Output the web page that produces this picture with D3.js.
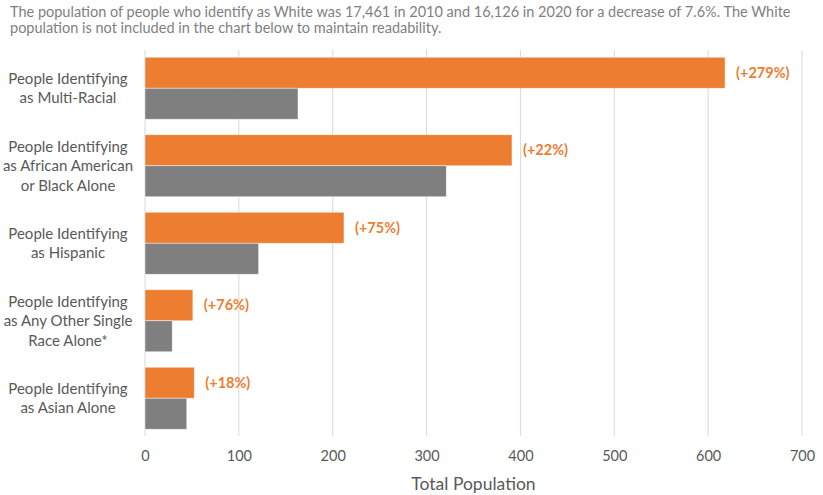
<!DOCTYPE html>
<html>
<head>
<meta charset="utf-8">
<script src="https://cdn.jsdelivr.net/npm/d3@7"></script>
<style>
  html, body { margin: 0; padding: 0; background: #ffffff; }
  svg { display: block; font-family: Lato, "Open Sans", sans-serif; }
</style>
</head>
<body>
<svg id="chart" width="823" height="495"></svg>
<script>
const categories = [
  ["People Identifying", "as Multi-Racial"],
  ["People Identifying", "as African American", "or Black Alone"],
  ["People Identifying", "as Hispanic"],
  ["People Identifying", "as Any Other Single", "Race Alone*"],
  ["People Identifying", "as Asian Alone"]
];
const values2020 = [618, 391, 212, 51, 52.5];
const values2010 = [163, 321, 121, 29, 44.5];
const changeLabels = ["(+279%)", "(+22%)", "(+75%)", "(+76%)", "(+18%)"];
const xTicks = [0, 100, 200, 300, 400, 500, 600, 700];
const titleLines = [
  "The population of people who identify as White was 17,461 in 2010 and 16,126 in 2020 for a decrease of 7.6%. The White",
  "population is not included in the chart below to maintain readability."
];
const axisTitle = "Total Population";

const svg = d3.select("#chart");
const ORANGE = "#ED7D31", GRAY = "#7F7F7F", TEXT = "#595959";

const x = d3.scaleLinear().domain([0, 700]).range([145, 802]);
const idx = d3.range(categories.length);
const y = d3.scaleBand().domain(idx).range([49.5, 437]).paddingInner(0.2).paddingOuter(0.1);
const sub = d3.scaleBand().domain(["2020", "2010"]).range([0, y.bandwidth()]);

// title
svg.append("g").selectAll("text").data(titleLines).join("text")
  .attr("x", 10).attr("y", (d, i) => 17 + i * 15.5)
  .attr("fill", "#7f7f7f").attr("font-size", 14.5)
  .text(d => d);

// gridlines
svg.append("g").selectAll("line").data(xTicks).join("line")
  .attr("x1", d => x(d)).attr("x2", d => x(d))
  .attr("y1", 50).attr("y2", 436)
  .attr("stroke", "#d9d9d9").attr("stroke-width", 1);

// axis labels
const xAxis = d3.axisBottom(x).tickValues(xTicks).tickSize(0).tickPadding(0);
const ax = svg.append("g").attr("transform", "translate(0,451)").call(xAxis);
ax.select(".domain").remove();
ax.selectAll("text").attr("fill", TEXT).attr("font-size", 14.5).attr("font-family", "Lato, sans-serif");

svg.append("text").attr("x", x(350)).attr("y", 490).attr("text-anchor", "middle")
  .attr("fill", TEXT).attr("font-size", 17.5).text(axisTitle);

// bars
const groups = svg.append("g").selectAll("g").data(idx).join("g")
  .attr("transform", d => `translate(0,${y(d)})`);

groups.append("rect")
  .attr("x", x(0)).attr("y", sub("2020"))
  .attr("width", d => x(values2020[d]) - x(0)).attr("height", sub.bandwidth())
  .attr("fill", ORANGE).attr("stroke", "#ffffff").attr("stroke-opacity", 0.6).attr("stroke-width", 0.75);

groups.append("rect")
  .attr("x", x(0)).attr("y", sub("2010"))
  .attr("width", d => x(values2010[d]) - x(0)).attr("height", sub.bandwidth())
  .attr("fill", GRAY).attr("stroke", "#ffffff").attr("stroke-opacity", 0.6).attr("stroke-width", 0.75);

groups.append("text")
  .attr("x", d => x(values2020[d]) + 11)
  .attr("y", sub("2020") + sub.bandwidth() / 2)
  .attr("dy", "0.35em")
  .attr("fill", ORANGE).attr("font-weight", "bold").attr("font-size", 14.5)
  .text(d => changeLabels[d]);

// category labels
groups.append("text")
  .attr("text-anchor", "middle")
  .attr("fill", TEXT).attr("font-size", 15)
  .each(function(d) {
    const lines = categories[d];
    const n = lines.length;
    const mid = y.bandwidth() / 2;
    d3.select(this).selectAll("tspan").data(lines).join("tspan")
      .attr("x", 68)
      .attr("y", (l, i) => mid + (i - (n - 1) / 2) * 19.5)
      .attr("dy", "0.35em")
      .text(l => l);
  });
</script>
</body>
</html>
